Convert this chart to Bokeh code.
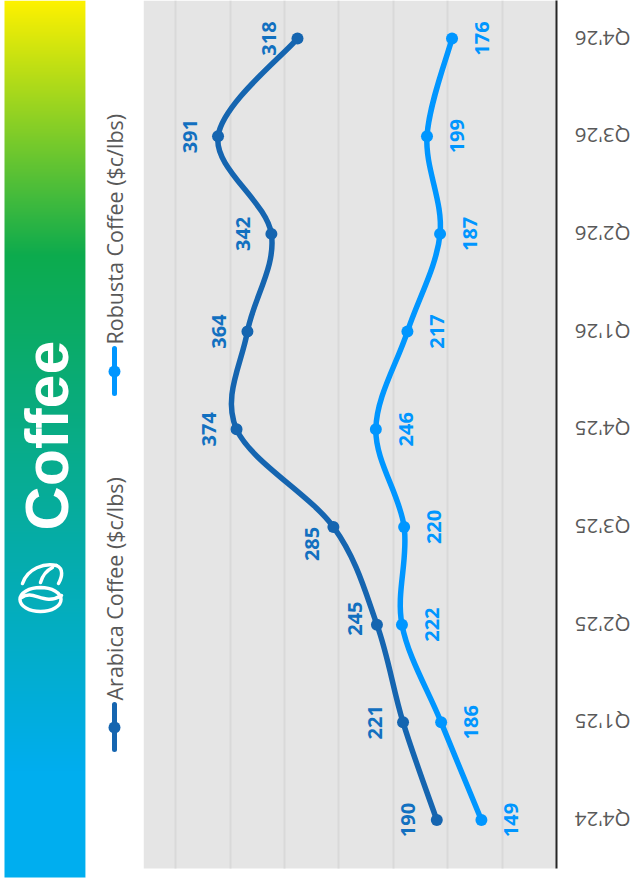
import math
import numpy as np
from bokeh.core.properties import value
from bokeh.embed import file_html
from bokeh.layouts import row
from bokeh.models import BoxAnnotation, ColumnDataSource, FixedTicker, Grid, Range1d
from bokeh.plotting import figure
from bokeh.resources import INLINE

# Quarterly coffee prices, US cents per pound
quarters = ["Q4'24", "Q1'25", "Q2'25", "Q3'25", "Q4'25", "Q1'26", "Q2'26", "Q3'26", "Q4'26"]
arabica = [190, 221, 245, 285, 374, 364, 342, 391, 318]
robusta = [149, 186, 222, 220, 246, 217, 187, 199, 176]
arabica_name = "Arabica Coffee ($c/lbs)"
robusta_name = "Robusta Coffee ($c/lbs)"
title = "Coffee"
grid_values = [130, 180, 230, 280, 330, 380, 430]

ARABICA_LINE = "#1565b0"
ARABICA_TEXT = "#1270c0"
ROBUSTA_LINE = "#0096ff"
ROBUSTA_TEXT = "#0096ff"
GREY_TEXT = "#595959"

# Header band colour stops: (screen y, r, g, b)
band_stops = [(0, 255, 242, 0), (255, 13, 171, 78), (770, 0, 174, 239), (877, 0, 174, 239)]

PRICE_LIMITS = (459.5, 80)
INDEX_LIMITS = (-0.496, 8.389)


def smooth_segments(values):
    """Cubic Bezier pieces of a Catmull-Rom curve through (value, index) knots."""
    v = list(values)
    n = len(v)
    out = {k: [] for k in ("x0", "y0", "x1", "y1", "cx0", "cy0", "cx1", "cy1")}
    for i in range(n - 1):
        a, b = max(i - 1, 0), min(i + 2, n - 1)
        out["x0"].append(v[i])
        out["y0"].append(i)
        out["x1"].append(v[i + 1])
        out["y1"].append(i + 1)
        out["cx0"].append(v[i] + (v[i + 1] - v[a]) / 6)
        out["cy0"].append(i + (i + 1 - a) / 6)
        out["cx1"].append(v[i + 1] - (v[b] - v[i]) / 6)
        out["cy1"].append(i + 1 - (b - i) / 6)
    return out


# ---- chart: the category axis runs upward, prices increase to the left ----
chart = figure(
    width=415, height=884, output_backend="svg", toolbar_location=None,
    x_range=Range1d(*PRICE_LIMITS), y_range=Range1d(-0.660, INDEX_LIMITS[1]),
    y_axis_location="right", x_axis_location=None,
    min_border_left=0, min_border_right=2, min_border_top=0, min_border_bottom=0,
    background_fill_color="#ffffff", border_fill_color="#ffffff",
    outline_line_color=None,
)
chart.grid.visible = False
chart.add_layout(BoxAnnotation(bottom=INDEX_LIMITS[0], top=INDEX_LIMITS[1],
                               fill_color="#e5e5e5", fill_alpha=1, line_color=None, level="underlay"))
chart.add_layout(Grid(dimension=0, ticker=FixedTicker(ticks=grid_values), cross_bounds=INDEX_LIMITS,
                      grid_line_color="#d9d9d9", grid_line_width=2))

index = list(range(len(quarters)))

yaxis = chart.yaxis[0]
yaxis.bounds = INDEX_LIMITS
yaxis.ticker = FixedTicker(ticks=index)
yaxis.major_label_text_font_size = "0px"
yaxis.major_label_overrides = {i: "" for i in index}
yaxis.major_label_standoff = 0
yaxis.major_tick_out = 0
yaxis.major_tick_in = 0
yaxis.axis_line_color = "#262626"
yaxis.axis_line_width = 2
yaxis.major_tick_line_color = None
yaxis.minor_tick_line_color = None

for values, colour in ((arabica, ARABICA_LINE), (robusta, ROBUSTA_LINE)):
    chart.bezier(source=ColumnDataSource(smooth_segments(values)),
                 x0="x0", y0="y0", x1="x1", y1="y1",
                 cx0="cx0", cy0="cy0", cx1="cx1", cy1="cy1",
                 line_color=colour, line_width=5.5, line_cap="round")
    chart.scatter(values, index, size=12, fill_color=colour, line_color=colour, line_width=0)

label_style = dict(
    angle=math.pi / 2, text_font=value("Open Sans"), text_font_style="bold",
    text_font_size="20px", text_align="center", text_baseline="middle",
)
chart.text(arabica, index, text=[str(v) for v in arabica], text_color=ARABICA_TEXT,
           x_offset=[-29, -28, -22, -21, -28, -28, -28, -28, -28],
           y_offset=[0, 0, -6, 17, 0, 0, 0, 0, 0], **label_style)
chart.text(robusta, index, text=[str(v) for v in robusta], text_color=ROBUSTA_TEXT,
           x_offset=30, y_offset=0, **label_style)

# ---- narrow strip at the right: upside-down quarter labels on the chart's category scale ----
strip = figure(
    width=81, height=884, output_backend="svg", toolbar_location=None,
    x_range=Range1d(0, 81), y_range=chart.y_range,
    x_axis_location=None, y_axis_location=None,
    min_border=0, outline_line_color=None,
)
strip.grid.visible = False
strip.text([72] * len(quarters), index, text=quarters, angle=math.pi,
           text_font=value("Open Sans"), text_font_size="20.5px", text_color=GREY_TEXT,
           text_align="left", text_baseline="middle")

# ---- left column: gradient title band, icon and the legend ----
head = figure(
    width=143, height=884, output_backend="svg", toolbar_location=None,
    x_range=Range1d(0, 143), y_range=Range1d(884, 0),
    x_axis_location=None, y_axis_location=None,
    min_border=0, outline_line_color=None,
)
head.grid.visible = False

rows = np.arange(0, 877)
stop_y = [s[0] for s in band_stops]
channels = [np.interp(rows + 0.5, stop_y, [s[k] for s in band_stops]) for k in (1, 2, 3)]
band = np.zeros((len(rows), 1), dtype=np.uint32)
view = band.view(dtype=np.uint8).reshape((len(rows), 1, 4))
view[:, 0, 0] = channels[0].astype(np.uint8)
view[:, 0, 1] = channels[1].astype(np.uint8)
view[:, 0, 2] = channels[2].astype(np.uint8)
view[:, 0, 3] = 255
head.image_rgba(image=[band], x=4, y=0, dw=81, dh=877)
head.segment([85.5], [0], [85.5], [877], line_color="#ffffff", line_alpha=0.35, line_width=1)

head.text([46], [435], text=[title], angle=math.pi / 2, text_color="#ffffff",
          text_font=value("Liberation Sans"), text_font_style="bold", text_font_size="61px",
          text_align="center", text_baseline="middle")

# Coffee bean icon: round bean, leaf outline behind it, vein and centre crease
icon = dict(line_color="#ffffff", line_width=3.5, line_cap="round")
head.ellipse([40], [599], width=41, height=24, fill_color=None, line_color="#ffffff", line_width=3.5)
head.bezier([22], [583], [56], [565], [27], [568], [44], [562], **icon)
head.bezier([56], [565], [58], [583], [63], [568], [62], [576], **icon)
head.bezier([40], [582], [52], [567], [42], [575], [46], [570], **icon)
head.bezier([21], [597], [61], [595], [33], [588], [43], [606], **icon)

# Legend entries
legend_y = ((727, 700, ARABICA_LINE, arabica_name), (371, 344, ROBUSTA_LINE, robusta_name))
for centre, start, colour, name in legend_y:
    head.segment([114], [centre - 23], [114], [centre + 22], line_color=colour, line_width=5, line_cap="round")
    head.scatter([114], [centre], size=12, fill_color=colour, line_color=colour, line_width=0)
    head.text([114], [start], text=[name], angle=math.pi / 2, text_color=GREY_TEXT,
              text_font=value("Open Sans"), text_font_size="21.5px",
              text_align="left", text_baseline="middle")

open("out.html", "w").write(file_html(row(head, chart, strip), INLINE))
